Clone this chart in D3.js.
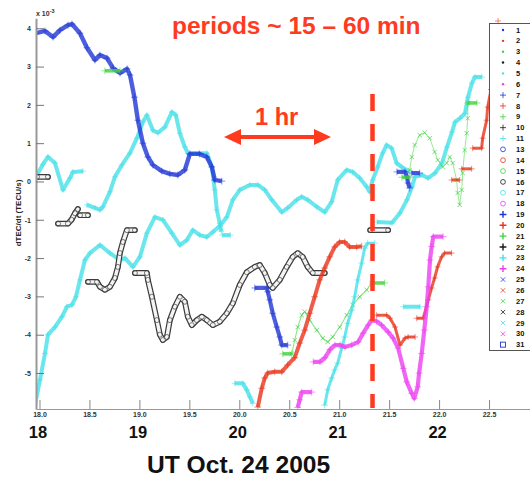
<!DOCTYPE html>
<html>
<head>
<meta charset="utf-8">
<script src="https://cdn.jsdelivr.net/npm/d3@7"></script>
<style>
body { margin: 0; background: #fff; }
svg { font-family: "Liberation Sans", Arial, sans-serif; }
</style>
</head>
<body>
<div id="chart"></div>
<script>
// ---- data (x = UT hours, y = dTEC/dt in 1e-3 TECU/s) ----
var hourTicks = [18, 18.5, 19, 19.5, 20, 20.5, 21, 21.5, 22, 22.5];
var valueTicks = [-5, -4, -3, -2, -1, 0, 1, 2, 3, 4];
var bigHours = [18, 19, 20, 21, 22];

var blueTop = [[17.965,3.87],[18.055,3.93],[18.135,3.77],[18.205,3.95],[18.285,4.08],[18.325,4.11],[18.405,3.87],[18.475,3.49],[18.555,3.17],[18.605,3.30],[18.676,3.22],[18.736,2.96],[18.806,2.83],[18.876,2.94],[18.906,2.78],[18.95,2.2],[18.985,1.6],[19.035,1.0],[19.085,0.64],[19.135,0.43],[19.225,0.27],[19.305,0.2],[19.385,0.17],[19.455,0.3],[19.505,0.72],[19.60,0.72],[19.675,0.64],[19.725,0.38],[19.755,0.04],[19.825,0.01]];
var blueMid = [[20.155,-2.78],[20.275,-2.78],[20.285,-2.88],[20.305,-3.09],[20.335,-3.44],[20.375,-3.8],[20.405,-4.06],[20.425,-4.27],[20.485,-4.27]];
var blueRightA = [[21.578,0.25],[21.658,0.25],[21.679,0.12],[21.689,-0.04],[21.706,-0.17]];
var blueRightB = [[21.726,0.22],[21.806,0.22]];

var cyanLeft = [[17.975,0.17],[18.035,0.45],[18.085,0.64],[18.155,0.48],[18.235,-0.22],[18.305,0.09],[18.335,0.25],[18.435,0.27]];
var cyanRise = [[18.475,-0.61],[18.555,-0.69],[18.605,-0.74],[18.635,-0.66],[18.705,-0.27],[18.755,0.12],[18.825,0.43],[18.905,0.74],[18.975,1.13],[19.035,1.55],[19.075,1.73],[19.135,1.34],[19.185,1.27],[19.255,1.42],[19.325,1.81],[19.365,1.73],[19.405,1.26],[19.455,0.90],[19.485,0.74],[19.675,0.74],[19.725,0.38],[19.755,-0.22],[19.775,-0.74],[19.805,-1.1],[19.82,-1.3]];
var cyanStub = [[19.83,-1.4],[19.91,-1.4]];
var cyanLong = [[17.955,-5.83],[18.005,-5.18],[18.055,-4.49],[18.085,-4.0],[18.155,-3.8],[18.225,-3.53],[18.275,-3.27],[18.325,-3.22],[18.365,-3.01],[18.405,-2.57],[18.455,-2.05],[18.505,-1.87],[18.605,-1.66],[18.705,-1.87],[18.805,-2.05],[18.855,-2.0],[18.935,-2.23],[19.005,-1.97],[19.075,-1.35],[19.155,-0.93],[19.235,-1.0],[19.325,-1.35],[19.405,-1.66],[19.475,-1.53],[19.535,-1.27],[19.605,-1.40],[19.675,-1.45],[19.735,-1.32],[19.805,-1.16],[19.875,-0.93],[19.935,-0.48],[20.005,-0.22],[20.105,-0.09],[20.185,-0.09],[20.255,-0.22],[20.325,-0.48],[20.425,-0.8],[20.485,-0.69],[20.575,-0.48],[20.625,-0.40],[20.685,-0.48],[20.775,-0.66],[20.855,-0.8],[20.925,-0.53],[20.985,0.04],[21.075,0.3],[21.135,0.25],[21.205,0.09],[21.275,-0.14],[21.305,-0.27],[21.335,0.04],[21.385,0.38],[21.435,0.74],[21.475,0.95],[21.525,0.87],[21.575,0.48],[21.625,0.38],[21.705,0.25]];
var cyanEast = [[21.379,-1.06],[21.529,-1.08],[21.609,-0.82],[21.679,-0.48],[21.729,-0.14],[21.759,0.12],[21.829,0.17],[21.889,0.09],[21.959,0.22],[22.029,0.48],[22.079,0.90],[22.129,1.29],[22.159,1.55],[22.209,1.65],[22.259,1.78],[22.289,2.2],[22.329,2.57],[22.359,2.73],[22.429,2.73]];
var cyanSteep = [[20.855,-5.84],[20.885,-5.44],[20.925,-5.13],[20.955,-4.92],[20.985,-4.74],[21.025,-4.35],[21.055,-4.06],[21.085,-3.70],[21.125,-3.36],[21.155,-3.01],[21.185,-2.57],[21.225,-2.13],[21.255,-1.74],[21.285,-1.61],[21.355,-1.61]];
var cyanLow = [[19.955,-5.27],[20.035,-5.27],[20.075,-5.44],[20.105,-5.62],[20.135,-5.79]];
var cyanFlat = [[21.642,-3.27],[21.809,-3.27]];

var blackA = [[17.975,0.12],[18.085,0.12]];
var blackB = [[18.185,-1.1],[18.285,-1.1],[18.32,-1.0],[18.355,-0.83],[18.385,-0.72]];
var blackC = [[18.405,-0.88],[18.485,-0.88]];
var blackD = [[18.485,-2.62],[18.575,-2.62],[18.605,-2.75],[18.655,-2.83],[18.705,-2.75],[18.755,-2.52],[18.785,-2.23],[18.805,-1.87],[18.835,-1.58],[18.875,-1.27],[18.955,-1.27]];
var blackE = [[18.955,-2.39],[19.075,-2.39],[19.085,-2.57],[19.125,-3.01],[19.175,-3.62],[19.205,-4.0],[19.235,-4.14],[19.275,-4.06],[19.305,-3.62],[19.355,-3.27],[19.405,-3.01],[19.455,-3.14],[19.485,-3.53],[19.525,-3.75],[19.575,-3.62],[19.625,-3.53],[19.675,-3.62],[19.735,-3.75],[19.805,-3.66],[19.875,-3.44],[19.935,-3.18],[20.005,-2.70],[20.075,-2.37],[20.155,-2.23],[20.205,-2.18],[20.255,-2.39],[20.305,-2.70],[20.335,-2.78],[20.405,-2.57],[20.475,-2.23],[20.535,-1.97],[20.585,-1.87],[20.635,-1.97],[20.685,-2.23],[20.735,-2.39],[20.855,-2.39]];
var blackF = [[21.31,-1.27],[21.49,-1.27]];

var greenSegA = [[18.655,2.89],[18.806,2.89]];
var greenSegB = [[20.435,-4.5],[20.525,-4.5]];
var greenSegC = [[21.335,-2.65],[21.455,-2.65]];
var greenSegD = [[21.628,0.11],[21.71,0.11]];
var greenSegE = [[22.289,2.05],[22.379,2.05]];
var greenWave = [[20.525,-4.5],[20.555,-4.14],[20.585,-3.8],[20.625,-3.49],[20.655,-3.40],[20.705,-3.62],[20.775,-3.88],[20.835,-4.09],[20.885,-4.19],[20.935,-4.06],[21.005,-3.80],[21.075,-3.49],[21.135,-3.22],[21.205,-3.01],[21.275,-2.83],[21.325,-2.65]];
var greenUpper = [[21.706,0.3],[21.726,0.64],[21.756,0.95],[21.806,1.21],[21.856,1.27],[21.906,1.13],[21.956,0.77],[21.986,0.56],[22.036,0.38],[22.076,0.48],[22.106,0.64],[22.136,0.48],[22.176,0.04],[22.186,-0.30],[22.206,-0.61],[22.226,-0.22],[22.236,0.22],[22.256,0.82],[22.276,1.26],[22.286,1.65],[22.289,2.05]];

var redBig = [[20.185,-5.89],[20.225,-5.4],[20.255,-5.13],[20.285,-5.0],[20.355,-4.97],[20.425,-4.97],[20.485,-4.79],[20.555,-4.6],[20.605,-4.22],[20.655,-3.88],[20.705,-3.44],[20.755,-3.01],[20.805,-2.57],[20.855,-2.26],[20.905,-1.97],[20.955,-1.71],[21.005,-1.58],[21.055,-1.58],[21.105,-1.71],[21.175,-1.71],[21.225,-1.69]];
var redRightA = [[21.375,-3.49],[21.475,-3.49],[21.509,-3.57],[21.559,-3.8],[21.609,-4.27],[21.659,-4.09],[21.69,-4.06],[21.76,-4.06]];
var redRightB = [[21.776,-3.57],[21.842,-3.57],[21.892,-3.09],[21.925,-2.78],[21.955,-2.52],[21.985,-2.23],[22.025,-1.97],[22.055,-1.87],[22.125,-1.87]];
var redUpA = [[22.126,0.04],[22.206,0.04]];
var redUpB = [[22.226,0.33],[22.326,0.33]];
var redUpC = [[22.336,0.87],[22.426,0.87],[22.436,1.13],[22.476,1.6],[22.486,1.94],[22.52,2.4]];
var redLone = [[22.59,4.19]];

var magentaBig = [[20.74,-4.71],[20.808,-4.71],[20.858,-4.6],[20.908,-4.39],[20.958,-4.27],[21.008,-4.27],[21.058,-4.32],[21.125,-4.27],[21.19,-4.19],[21.24,-3.96],[21.29,-3.75],[21.325,-3.62],[21.375,-3.65],[21.425,-3.75],[21.49,-3.93],[21.54,-4.09],[21.59,-4.35],[21.642,-4.88],[21.676,-5.23],[21.726,-5.53],[21.752,-5.66],[21.786,-5.36],[21.80,-5.0],[21.826,-4.49],[21.852,-3.88],[21.876,-3.27],[21.892,-2.75],[21.909,-2.05],[21.926,-1.70],[21.942,-1.44],[22.04,-1.44]];
var magentaLow = [[20.585,-5.9],[20.605,-5.7],[20.625,-5.5],[20.725,-5.5]];

var legendIds = [1,2,3,4,5,6,7,8,9,10,11,13,14,15,16,17,18,19,20,21,22,23,24,25,26,27,28,29,30,31];
var legendMarks = ["dot","dot","dot","dot","dot","dot","plus","plus","plus","plus","plus","o","o","o","o","o","o","star","star","star","star","star","star","x","x","x","x","x","x","square"];
var legendColors = ["b","r","g","k","c","m","b","r","g","k","c","b","r","g","k","c","m","b","r","g","k","c","m","b","r","g","k","c","m","b"];

// ---- drawing ----
var width = 530, height = 477;
var colors = { b: "#1f35d6", r: "#e8341c", g: "#3fd43f", k: "#1a1a1a", c: "#45e0e8", m: "#ec3ff0" };
var accent = "#ff3b1f";

var svg = d3.select("#chart").append("svg")
    .attr("width", width)
    .attr("height", height);

var x = d3.scaleLinear().domain([17.965, 22.91]).range([36, 530]);
var y = d3.scaleLinear().domain([-5.94, 4.26]).range([409, 18.3]);

svg.append("clipPath").attr("id", "plotClip")
    .append("rect").attr("x", 36).attr("y", 16).attr("width", 494).attr("height", 393);

var plot = svg.append("g").attr("clip-path", "url(#plotClip)");

var markPaths = {
    plus: "M-3,0H3M0,-3V3",
    x: "M-2.2,-2.2L2.2,2.2M-2.2,2.2L2.2,-2.2",
    star: "M-3.4,0H3.4M0,-3.4V3.4"
};

var series = [
    { data: cyanLong, c: "c", mark: "plus", w: 4 },
    { data: cyanLeft, c: "c", mark: "plus", w: 4 },
    { data: cyanRise, c: "c", mark: "plus", w: 4 },
    { data: cyanStub, c: "c", mark: "plus", w: 4 },
    { data: cyanEast, c: "c", mark: "plus", w: 4 },
    { data: cyanLow, c: "c", mark: "plus", w: 4 },
    { data: cyanFlat, c: "c", mark: "plus", w: 4 },
    { data: blackA, c: "k", mark: "o" },
    { data: blackB, c: "k", mark: "o" },
    { data: blackC, c: "k", mark: "o" },
    { data: blackD, c: "k", mark: "o" },
    { data: blackE, c: "k", mark: "o" },
    { data: blackF, c: "k", mark: "o" },
    { data: greenWave, c: "g", mark: "x", w: 1.1 },
    { data: greenUpper, c: "g", mark: "x", w: 0.9 },
    { data: blueTop, c: "b", mark: "star", w: 4.4 },
    { data: blueMid, c: "b", mark: "star", w: 4.2 },
    { data: blueRightA, c: "b", mark: "star", w: 4.2 },
    { data: blueRightB, c: "b", mark: "star", w: 4.2 },
    { data: redBig, c: "r", mark: "star", w: 4 },
    { data: redRightA, c: "r", mark: "plus", w: 3 },
    { data: redRightB, c: "r", mark: "plus", w: 3 },
    { data: redUpA, c: "r", mark: "plus", w: 3 },
    { data: redUpB, c: "r", mark: "plus", w: 3 },
    { data: redUpC, c: "r", mark: "plus", w: 3 },
    { data: redLone, c: "r", mark: "plus", w: 1 },
    { data: cyanSteep, c: "c", mark: "star", w: 3 },
    { data: magentaBig, c: "m", mark: "star", w: 4.2 },
    { data: magentaLow, c: "m", mark: "star", w: 4.2 },
    { data: greenSegA, c: "g", mark: "star", w: 3.6 },
    { data: greenSegB, c: "g", mark: "star", w: 3.6 },
    { data: greenSegC, c: "g", mark: "star", w: 3.6 },
    { data: greenSegD, c: "g", mark: "star", w: 3.6 },
    { data: greenSegE, c: "g", mark: "star", w: 3.6 }
];

var line = d3.line()
    .x(function (d) { return x(d[0]); })
    .y(function (d) { return y(d[1]); });

series.forEach(function (s) {
    var g = plot.append("g");
    var col = colors[s.c];
    if (s.mark === "o") {
        // chain of open circles looks like a hollow tube
        g.append("path").datum(s.data).attr("d", line)
            .attr("fill", "none").attr("stroke", "#3a3a3a").attr("stroke-width", 5.8)
            .attr("stroke-linejoin", "round").attr("stroke-linecap", "round");
        g.append("path").datum(s.data).attr("d", line)
            .attr("fill", "none").attr("stroke", "#f4f4f4").attr("stroke-width", 3.4)
            .attr("stroke-linejoin", "round").attr("stroke-linecap", "round");
        g.selectAll("circle").data(s.data).enter().append("circle")
            .attr("cx", function (d) { return x(d[0]); })
            .attr("cy", function (d) { return y(d[1]); })
            .attr("r", 2.5)
            .attr("fill", "none").attr("stroke", "#444").attr("stroke-width", 0.7);
        return;
    }
    g.append("path").datum(s.data).attr("d", line)
        .attr("fill", "none").attr("stroke", col)
        .attr("stroke-width", s.w).attr("stroke-opacity", s.mark === "x" ? 0.6 : 0.8)
        .attr("stroke-linejoin", "round");
    g.selectAll("path.mk").data(s.data).enter().append("path")
        .attr("class", "mk")
        .attr("d", markPaths[s.mark])
        .attr("transform", function (d) { return "translate(" + x(d[0]) + "," + y(d[1]) + ")"; })
        .attr("fill", "none").attr("stroke", col)
        .attr("stroke-opacity", s.mark === "x" ? 0.9 : 0.7)
        .attr("stroke-width", 0.8);
});

// axes, ticks pointing inward
var yAxis = d3.axisLeft(y).tickValues(valueTicks).tickSizeInner(-8).tickSizeOuter(0).tickPadding(5)
    .tickFormat(d3.format("d"));
var gy = svg.append("g").attr("transform", "translate(36,0)").call(yAxis);
gy.select(".domain").attr("stroke", "#999").attr("stroke-width", 2);
gy.selectAll(".tick line").attr("stroke", "#777");
gy.selectAll(".tick text").attr("font-size", 7).attr("font-weight", "bold").attr("fill", "#333")
    .text(function (d) { return d < 0 ? "-" + Math.abs(d) : d; });

var xAxis = d3.axisBottom(x).tickValues(hourTicks).tickSizeInner(-9).tickSizeOuter(0).tickPadding(3);
var gx = svg.append("g").attr("transform", "translate(0,409)").call(xAxis);
gx.select(".domain").attr("stroke", "#999").attr("stroke-width", 1.2);
gx.selectAll(".tick line").attr("stroke", "#888");
gx.selectAll(".tick text").attr("font-size", 7).attr("font-weight", "bold").attr("fill", "#333");

// exponent label
var expo = svg.append("text").attr("x", 36).attr("y", 16)
    .attr("font-size", 7).attr("font-weight", "bold").attr("fill", "#333");
expo.append("tspan").text("x 10");
expo.append("tspan").attr("dy", -3).attr("font-size", 5.5).text("-3");

// y label
svg.append("text")
    .attr("transform", "translate(21,213)rotate(-90)")
    .attr("text-anchor", "middle")
    .attr("font-size", 8).attr("font-weight", "bold").attr("fill", "#222")
    .text("dTEC/dt (TECU/s)");

// big hour labels and date
svg.selectAll("text.big").data(bigHours).enter().append("text")
    .attr("class", "big")
    .attr("x", function (d) { return x(d) - 1.5; })
    .attr("y", 438)
    .attr("text-anchor", "middle")
    .attr("font-size", 16.5).attr("font-weight", "bold").attr("fill", "#111")
    .text(function (d) { return d; });

svg.append("text").attr("x", 147).attr("y", 473)
    .attr("font-size", 24.6).attr("font-weight", "bold").attr("fill", "#111")
    .text("UT Oct. 24 2005");

// annotations
svg.append("text").attr("x", 172).attr("y", 34)
    .attr("font-size", 24.5).attr("font-weight", "bold").attr("fill", accent)
    .text("periods ~ 15 \u2013 60 min");

svg.append("text").attr("x", 255).attr("y", 125)
    .attr("font-size", 23.6).attr("font-weight", "bold").attr("fill", accent)
    .text("1 hr");

svg.append("line").attr("x1", 236).attr("x2", 319).attr("y1", 137).attr("y2", 137)
    .attr("stroke", accent).attr("stroke-width", 4);
svg.append("path").attr("d", "M224,137L241,129L241,145Z").attr("fill", accent);
svg.append("path").attr("d", "M331,137L314,129L314,145Z").attr("fill", accent);

svg.append("line").attr("x1", 372.5).attr("x2", 372.5).attr("y1", 94).attr("y2", 408)
    .attr("stroke", accent).attr("stroke-width", 4.5).attr("stroke-dasharray", "17,13");

// legend
var legend = svg.append("g");
legend.append("rect").attr("x", 489.5).attr("y", 23.5).attr("width", 60).attr("height", 327)
    .attr("fill", "#fff").attr("stroke", "#555").attr("stroke-width", 1);

var rows = legend.selectAll("g.row").data(legendIds).enter().append("g")
    .attr("class", "row")
    .attr("transform", function (d, i) { return "translate(503," + (30 + i * 10.85) + ")"; });

rows.each(function (d, i) {
    var r = d3.select(this);
    var col = colors[legendColors[i]];
    var m = legendMarks[i];
    if (m === "dot") {
        r.append("circle").attr("r", 1.2).attr("fill", col);
    } else if (m === "o") {
        r.append("circle").attr("r", 2.4).attr("fill", "none").attr("stroke", col).attr("stroke-width", 0.8);
    } else if (m === "square") {
        r.append("rect").attr("x", -2.5).attr("y", -2.5).attr("width", 5).attr("height", 5)
            .attr("fill", "none").attr("stroke", col).attr("stroke-width", 0.9);
    } else {
        r.append("path").attr("d", markPaths[m]).attr("fill", "none").attr("stroke", col)
            .attr("stroke-width", m === "star" ? 1.4 : 0.8);
    }
    r.append("text").attr("x", 13).attr("y", 2.6)
        .attr("font-size", 7.5).attr("font-weight", "bold").attr("fill", "#111")
        .text(d);
});
</script>
</body>
</html>
